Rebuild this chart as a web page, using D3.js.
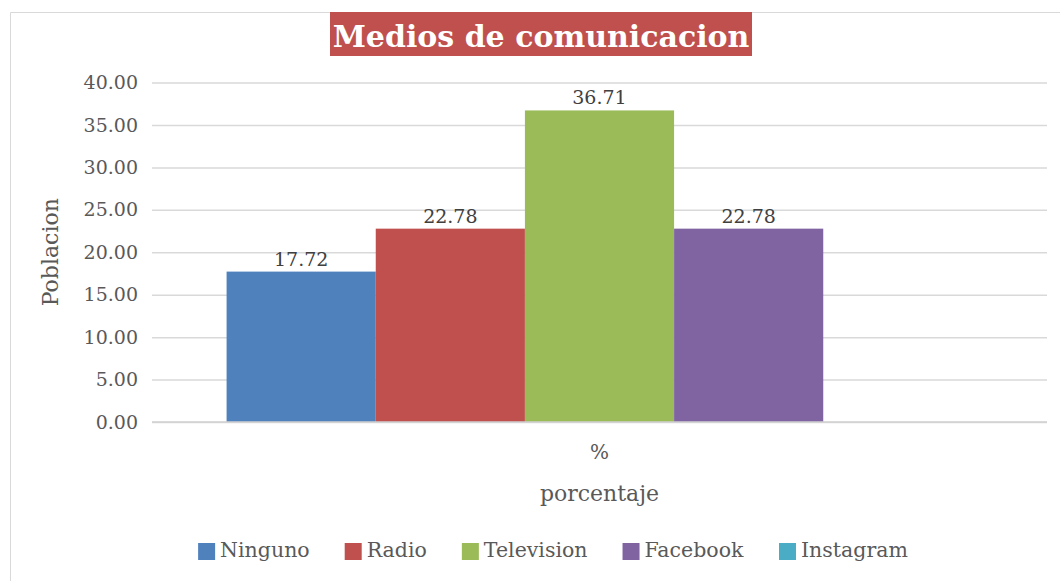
<!DOCTYPE html>
<html>
<head>
<meta charset="utf-8">
<script src="https://cdn.jsdelivr.net/npm/d3@7"></script>
<style>
  body { margin: 0; background: #fff; }
  text { font-family: "DejaVu Serif", serif; }
</style>
</head>
<body>
<div id="chart"></div>
<script>
const categories = ["%"]
const series = ["Ninguno", "Radio", "Television", "Facebook", "Instagram"]
const values = [17.72, 22.78, 36.71, 22.78, 0]
const colors = ["#4F81BD", "#C0504D", "#9BBB59", "#8064A2", "#4BACC6"]
const yTicks = [0, 5, 10, 15, 20, 25, 30, 35, 40]

const width = 1060
const height = 581
const plot = {left: 152, right: 1047, top: 82.5, bottom: 422}

const svg = d3.select("#chart")
  .append("svg")
  .attr("width", width)
  .attr("height", height)

// chart frame
svg.append("path")
  .attr("d", `M10.5,${height} V12.5 H${width}`)
  .attr("fill", "none")
  .attr("stroke", "#D9D9D9")

const y = d3.scaleLinear()
  .domain([0, 40])
  .range([plot.bottom, plot.top])

const x0 = d3.scaleBand()
  .domain(categories)
  .range([plot.left, plot.right])
  .paddingInner(0)
  .paddingOuter(0.1)

const x1 = d3.scaleBand()
  .domain(series)
  .range([0, x0.bandwidth()])
  .padding(0)

const color = d3.scaleOrdinal()
  .domain(series)
  .range(colors)

// gridlines
const yAxis = svg.append("g")
  .attr("transform", `translate(${plot.left},0)`)
  .call(d3.axisLeft(y).tickValues(yTicks).tickFormat(d3.format(".2f")).tickSize(-(plot.right - plot.left)).tickPadding(14))
yAxis.select(".domain").remove()
yAxis.selectAll(".tick line").attr("stroke", "#D9D9D9").attr("stroke-width", 1.5)
yAxis.selectAll(".tick text")
  .attr("fill", "#595959")
  .style("font-size", "19px")

// bars
const groups = svg.selectAll(".group")
  .data(categories)
  .enter()
  .append("g")
  .attr("class", "group")
  .attr("transform", d => `translate(${x0(d)},0)`)

const bars = groups.selectAll(".bar")
  .data(() => series.map((s, i) => ({name: s, value: values[i]})))
  .enter()

bars.append("rect")
  .attr("x", d => x1(d.name))
  .attr("y", d => y(d.value))
  .attr("width", x1.bandwidth())
  .attr("height", d => y(0) - y(d.value))
  .attr("fill", d => color(d.name))

bars.filter(d => d.value > 0)
  .append("text")
  .attr("x", d => x1(d.name) + x1.bandwidth() / 2)
  .attr("y", d => y(d.value) - 6)
  .attr("text-anchor", "middle")
  .attr("fill", "#404040")
  .style("font-size", "19px")
  .text(d => d.value.toFixed(2))

// category axis
svg.append("line")
  .attr("x1", plot.left).attr("x2", plot.right)
  .attr("y1", y(0)).attr("y2", y(0))
  .attr("stroke", "#D0D0D0").attr("stroke-width", 1.5)

svg.selectAll(".xlabel")
  .data(categories)
  .enter()
  .append("text")
  .attr("x", d => x0(d) + x0.bandwidth() / 2)
  .attr("y", 459)
  .attr("text-anchor", "middle")
  .attr("fill", "#595959")
  .style("font-size", "20px")
  .text(d => d)

// axis titles
svg.append("text")
  .attr("x", (plot.left + plot.right) / 2)
  .attr("y", 501)
  .attr("text-anchor", "middle")
  .attr("fill", "#595959")
  .style("font-size", "22px")
  .text("porcentaje")

svg.append("text")
  .attr("transform", `translate(58,${(plot.top + plot.bottom) / 2}) rotate(-90)`)
  .attr("text-anchor", "middle")
  .attr("fill", "#595959")
  .style("font-size", "22px")
  .text("Poblacion")

// title
const title = svg.append("g")
title.append("rect")
  .attr("x", 330).attr("y", 12)
  .attr("width", 422).attr("height", 44)
  .attr("fill", "#C0504D")
title.append("text")
  .attr("x", 541)
  .attr("y", 47)
  .attr("text-anchor", "middle")
  .attr("fill", "#fff")
  .style("font-size", "30px")
  .style("font-weight", "bold")
  .text("Medios de comunicacion")

// legend
const legend = svg.append("g")
const items = legend.selectAll(".item")
  .data(series)
  .enter()
  .append("g")
  .attr("class", "item")
items.append("rect")
  .attr("width", 17).attr("height", 17)
  .attr("y", -14)
  .attr("fill", d => color(d))
items.append("text")
  .attr("x", 22)
  .attr("fill", "#595959")
  .style("font-size", "20.5px")
  .text(d => d)

let offset = 0
items.each(function() {
  d3.select(this).attr("transform", `translate(${offset},0)`)
  offset += this.getBBox().width + 35
})
const legendWidth = offset - 35
legend.attr("transform", `translate(${553 - legendWidth / 2},557)`)
</script>
</body>
</html>
